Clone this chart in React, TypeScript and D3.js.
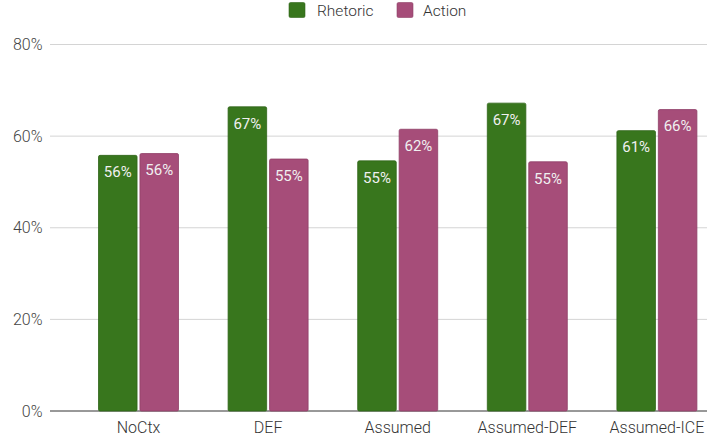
import React from "react";
import * as d3 from "d3";

const categories = ["NoCtx", "DEF", "Assumed", "Assumed-DEF", "Assumed-ICE"];
const seriesNames = ["Rhetoric", "Action"];
const rhetoric = [55.8, 66.4, 54.6, 67.2, 61.2];
const action = [56.2, 55.0, 61.5, 54.4, 65.8];
const labelsRhetoric = ["56%", "67%", "55%", "67%", "61%"];
const labelsAction = ["56%", "55%", "62%", "55%", "66%"];
const yTicks = [0, 20, 40, 60, 80];
const colors = ["#38761d", "#a64d79"];
const strokes = ["#2f6518", "#8f3f67"];

const W = 707;
const H = 439;

export default function App() {
  const y = d3.scaleLinear().domain([0, 80]).range([411, 44.5]);
  const x = d3.scaleBand().domain(categories).range([73.7, 721.7]).paddingInner(0).paddingOuter(0);
  const groupW = 80;
  const sub = d3.scaleBand().domain(seriesNames).range([0, groupW]).paddingInner(0.07);
  const series = [rhetoric, action];
  const labels = [labelsRhetoric, labelsAction];
  const font = "Roboto, 'Open Sans', sans-serif";

  return (
    <svg width={W} height={H} style={{ position: "absolute", left: 0, top: 0, background: "#fff" }} fontFamily={font}>
      {yTicks.map((t) => (
        <g key={t}>
          <line x1={50} x2={W} y1={y(t)} y2={y(t)} stroke={t === 0 ? "#333" : "#d4d4d4"} strokeWidth={1} />
          <text x={42.5} y={y(t)} dy="0.35em" textAnchor="end" fontSize={16} fontWeight={300} fill="#444">
            {t}%
          </text>
        </g>
      ))}
      {categories.map((c, i) => {
        const cx = (x(c) as number) + x.bandwidth() / 2;
        const gx = cx - groupW / 2;
        return (
          <g key={c}>
            {series.map((s, k) => {
              const bx = gx + (sub(seriesNames[k]) as number);
              const bw = sub.bandwidth();
              const top = y(s[i]);
              return (
                <g key={k}>
                  <rect x={bx} y={top} width={bw} height={y(0) - top} fill={colors[k]} stroke={strokes[k]} strokeWidth={0.8} rx={1.5} />
                  <text x={bx + bw / 2} y={top + 16.5} dy="0.35em" textAnchor="middle" fontSize={15} fill="#f0f0f0">
                    {labels[k][i]}
                  </text>
                </g>
              );
            })}
            <text x={cx} y={427} dy="0.35em" textAnchor="middle" fontSize={16} fontWeight={300} fill="#333">
              {c}
            </text>
          </g>
        );
      })}
      <g>
        <rect x={289} y={2.5} width={16} height={15} fill={colors[0]} stroke={strokes[0]} strokeWidth={0.6} rx={1.5} />
        <text x={317} y={10.5} dy="0.35em" fontSize={15.5} fontWeight={300} fill="#333">Rhetoric</text>
        <rect x={397} y={2.5} width={16} height={15} fill={colors[1]} stroke={strokes[1]} strokeWidth={0.6} rx={1.5} />
        <text x={423} y={10.5} dy="0.35em" fontSize={15.5} fontWeight={300} fill="#333">Action</text>
      </g>
    </svg>
  );
}
